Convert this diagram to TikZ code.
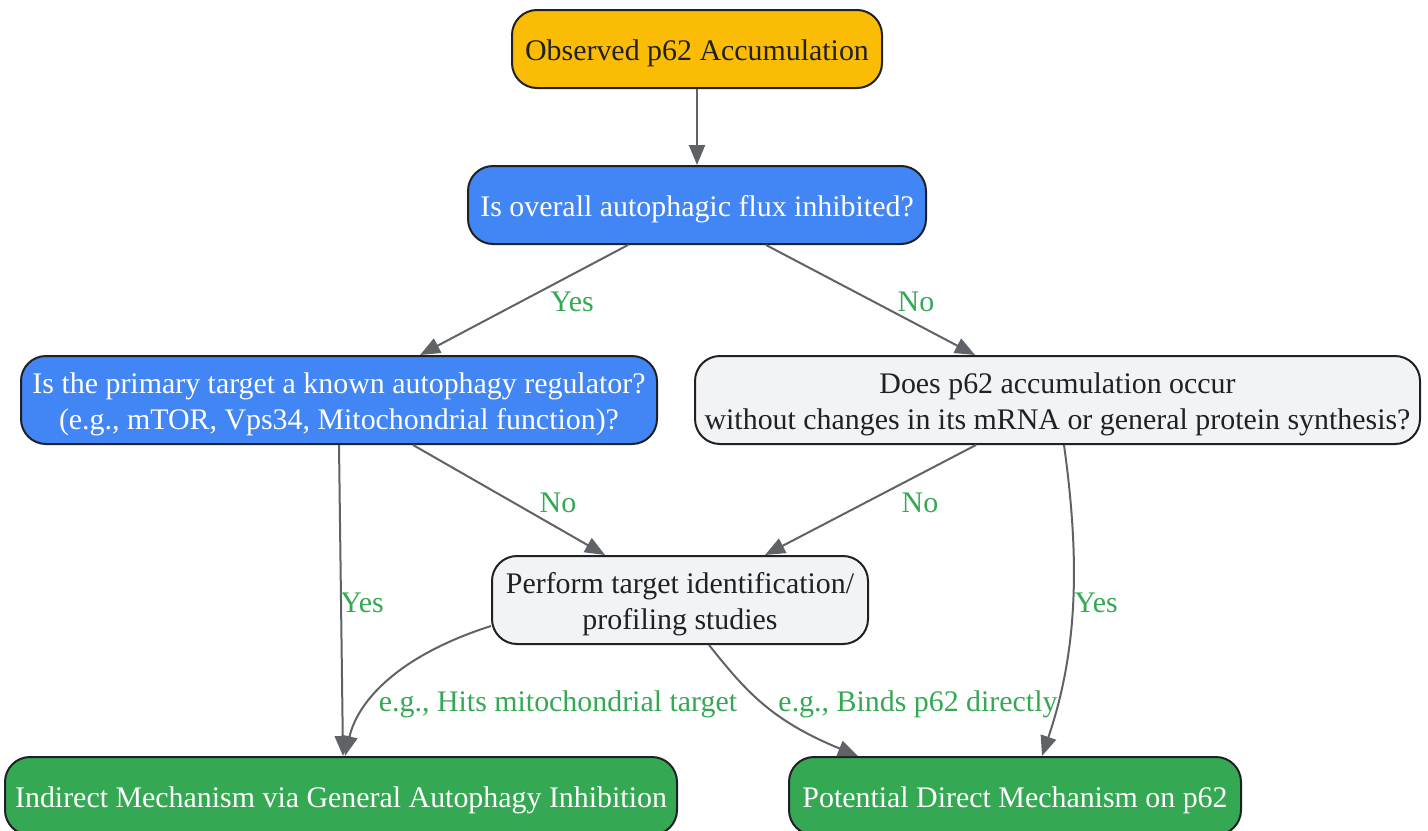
\documentclass[tikz,border=0pt]{standalone}
\usepackage{fontspec}
\setmainfont{Liberation Serif}
\usetikzlibrary{arrows.meta}
\definecolor{gold}{HTML}{FBBC05}
\definecolor{gblue}{HTML}{4285F4}
\definecolor{ggreen}{HTML}{34A853}
\definecolor{ggray}{HTML}{F1F3F4}
\definecolor{gborder}{HTML}{202124}
\definecolor{garrow}{HTML}{5F6368}
\definecolor{gtext}{HTML}{202124}
\newcommand{\tstrut}{\rule{0pt}{15pt}}
\newcommand{\bstrut}{\rule[-4pt]{0pt}{4pt}}
\begin{document}
\begin{tikzpicture}[x=0.5pt,y=-0.5pt,
  box/.style={draw=gborder,line width=1pt,rounded corners=12.5pt,align=center,inner sep=0pt,
    font=\fontsize{14.95}{17.5}\selectfont},
  goldbox/.style={box,fill=gold,text=gtext},
  bluebox/.style={box,fill=gblue,text=white},
  graybox/.style={box,fill=ggray,text=gtext},
  greenbox/.style={box,fill=ggreen,text=white},
  conn/.style={draw=garrow,line width=1pt,-{Triangle[length=10pt,width=8pt]}},
  lbl/.style={text=ggreen,inner sep=0pt,font=\fontsize{14.95}{17.5}\selectfont}]
\useasboundingbox (0,0) rectangle (1428,830);
\node[goldbox,minimum width=185pt,minimum height=39pt] (A) at (697,49) {\tstrut Observed p62 Accumulation\bstrut};
\node[bluebox,minimum width=229pt,minimum height=39pt] (B) at (697,205) {\tstrut Is overall autophagic flux inhibited?\bstrut};
\node[bluebox,minimum width=318pt,minimum height=44pt] (C) at (339,400) {\tstrut Is the primary target a known autophagy regulator?\\[0.5pt](e.g., mTOR, Vps34, Mitochondrial function)?\bstrut};
\node[graybox,minimum width=362.5pt,minimum height=44pt] (D) at (1057.5,400) {\tstrut Does p62 accumulation occur\\[0.5pt]without changes in its mRNA or general protein synthesis?\bstrut};
\node[graybox,minimum width=188pt,minimum height=44pt] (E) at (680,600) {\tstrut Perform target identification/\\[0.5pt]profiling studies\bstrut};
\node[greenbox,minimum width=336pt,minimum height=39pt] (F) at (341,796) {\tstrut Indirect Mechanism via General Autophagy Inhibition\bstrut};
\node[greenbox,minimum width=226pt,minimum height=39pt] (G) at (1015,796) {\tstrut Potential Direct Mechanism on p62\bstrut};

\draw[conn] (A.south) -- (B.north);
\draw[conn] ([xshift=-34.5pt]B.south) -- ([xshift=40.5pt]C.north);
\draw[conn] ([xshift=34.5pt]B.south) -- ([xshift=-41.25pt]D.north);
\draw[conn] (C.south) -- ([xshift=1pt]F.north);
\draw[conn] ([xshift=37pt]C.south) -- ([xshift=-37.5pt]E.north);
\draw[conn] ([xshift=-40.75pt]D.south) -- ([xshift=42.5pt]E.north);
\draw[conn] ([xshift=3.25pt]D.south) .. controls (1080,560) and (1078,650) .. ([xshift=13.5pt]G.north);
\draw[conn] ([yshift=-13pt]E.west) .. controls (400,655) and (358,700) .. ([xshift=2pt]F.north);
\draw[conn] ([xshift=14.5pt]E.south) .. controls (745,690) and (770,720) .. ([xshift=-78.5pt]G.north);

\node[lbl] (l1) at (572,302) {Yes};
\node[lbl] (l2) at (916,302) {No};
\node[lbl] (l3) at (362,603) {Yes};
\node[lbl] (l4) at (558,503) {No};
\node[lbl] (l5) at (920,503) {No};
\node[lbl] (l6) at (1096,603) {Yes};
\node[lbl] (l7) at (558,704) {e.g., Hits mitochondrial target};
\node[lbl] (l8) at (918,704) {e.g., Binds p62 directly};
\end{tikzpicture}
\end{document}
